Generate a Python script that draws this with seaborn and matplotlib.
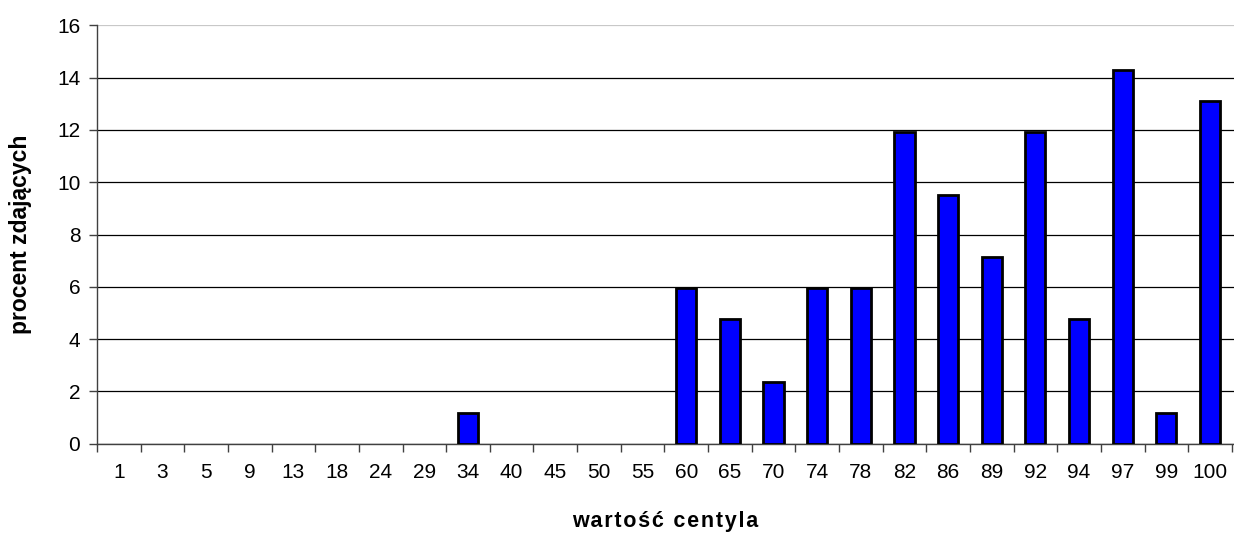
import matplotlib
matplotlib.use("Agg")
import matplotlib.pyplot as plt
import seaborn as sns
import pandas as pd
import numpy as np

# categories and values
centyle = ['1', '3', '5', '9', '13', '18', '24', '29', '34', '40', '45', '50', '55',
           '60', '65', '70', '74', '78', '82', '86', '89', '92', '94', '97', '99', '100']
procent = [0, 0, 0, 0, 0, 0, 0, 0, 1.19, 0, 0, 0, 0,
           5.95, 4.76, 2.38, 5.95, 5.95, 11.9, 9.52, 7.14, 11.9, 4.76, 14.29, 1.19, 13.1]
y_ticks = [0, 2, 4, 6, 8, 10, 12, 14, 16]

df = pd.DataFrame({'centyl': centyle, 'procent': procent})

sns.set_style("white")
plt.rcParams['font.family'] = ['Liberation Sans', 'DejaVu Sans']
plt.rcParams['text.color'] = 'black'
plt.rcParams['xtick.color'] = 'black'
plt.rcParams['ytick.color'] = 'black'
plt.rcParams['axes.labelcolor'] = 'black'

fig, ax = plt.subplots(figsize=(12.34, 5.36), dpi=100)
fig.subplots_adjust(left=0.0786, right=1.0, top=0.953, bottom=0.172)

# blue bars with black outline
sns.barplot(x='centyl', y='procent', data=df, ax=ax, color='#0000ff',
            saturation=1, width=0.46, edgecolor='black', linewidth=2, zorder=3)
# empty categories: no outline
for p in ax.patches:
    if p.get_height() == 0:
        p.set_linewidth(0)

ax.set_ylim(0, 16)
ax.set_yticks(y_ticks)
ax.set_xlim(-0.5, len(centyle) - 0.45)
ax.yaxis.grid(True, color='black', linewidth=0.9, zorder=0)
ax.get_ygridlines()[-1].set_color('#c8c8c8')

# x ticks between categories, labels centred
ax.set_xticks(np.arange(len(centyle)))
ax.set_xticklabels(centyle)
ax.set_xticks(np.arange(len(centyle) + 1) - 0.5, minor=True)
ax.tick_params(axis='x', which='major', bottom=True, length=0, pad=14, labelsize=15, labelcolor='black')
ax.tick_params(axis='x', which='minor', bottom=True, length=6, width=1, color='#404040', direction='out')
ax.tick_params(axis='y', left=True, length=6, width=1, color='#404040', direction='out',
               labelsize=15, labelcolor='black', pad=6)

for side in ['top', 'right']:
    ax.spines[side].set_visible(False)
ax.spines['left'].set_color('#404040')
ax.spines['bottom'].set_color('#404040')
ax.spines['left'].set_linewidth(1)
ax.spines['bottom'].set_linewidth(1)

# x label is letter-spaced in the original
xlab = '\u200a'.join('wartość centyla')
ax.set_xlabel(xlab, fontsize=15.5, fontweight='bold', labelpad=21,
              family=['Liberation Sans', 'DejaVu Sans'])
ax.set_ylabel('procent zdających', fontsize=16.5, fontweight='bold', labelpad=18)

fig.savefig('out.png', dpi=100)
